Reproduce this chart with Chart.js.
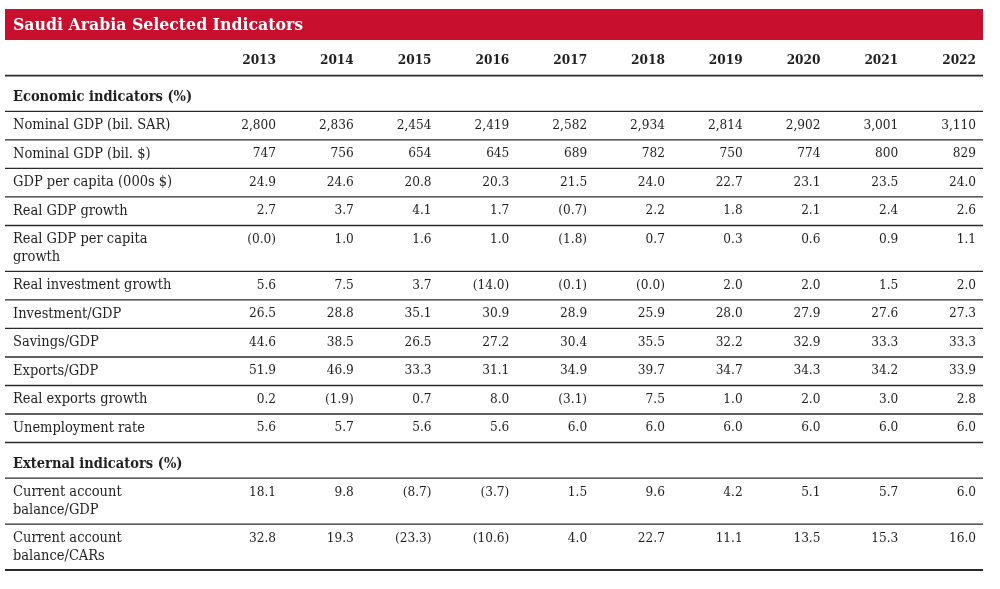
<!DOCTYPE html>
<html>
<head>
<meta charset="utf-8">
<script src="https://cdn.jsdelivr.net/npm/chart.js@4/dist/chart.umd.min.js"></script>
<style>
  html, body { margin: 0; padding: 0; background: #ffffff; }
  #wrap { width: 1000px; height: 589px; position: relative; }
</style>
</head>
<body>
<div id="wrap"><canvas id="c"></canvas></div>
<script>
// ---------- DATA ----------
const title = 'Saudi Arabia Selected Indicators';
const years = ['2013', '2014', '2015', '2016', '2017', '2018', '2019', '2020', '2021', '2022'];

const sectionEconomic = 'Economic indicators (%)';
const sectionExternal = 'External indicators (%)';

const nominalGdpSar      = [2800, 2836, 2454, 2419, 2582, 2934, 2814, 2902, 3001, 3110];
const nominalGdpUsd      = [747, 756, 654, 645, 689, 782, 750, 774, 800, 829];
const gdpPerCapita       = [24.9, 24.6, 20.8, 20.3, 21.5, 24.0, 22.7, 23.1, 23.5, 24.0];
const realGdpGrowth      = [2.7, 3.7, 4.1, 1.7, -0.7, 2.2, 1.8, 2.1, 2.4, 2.6];
const realGdpPcGrowth    = [-0.0, 1.0, 1.6, 1.0, -1.8, 0.7, 0.3, 0.6, 0.9, 1.1];
const realInvGrowth      = [5.6, 7.5, 3.7, -14.0, -0.1, -0.0, 2.0, 2.0, 1.5, 2.0];
const investmentGdp      = [26.5, 28.8, 35.1, 30.9, 28.9, 25.9, 28.0, 27.9, 27.6, 27.3];
const savingsGdp         = [44.6, 38.5, 26.5, 27.2, 30.4, 35.5, 32.2, 32.9, 33.3, 33.3];
const exportsGdp         = [51.9, 46.9, 33.3, 31.1, 34.9, 39.7, 34.7, 34.3, 34.2, 33.9];
const realExportsGrowth  = [0.2, -1.9, 0.7, 8.0, -3.1, 7.5, 1.0, 2.0, 3.0, 2.8];
const unemploymentRate   = [5.6, 5.7, 5.6, 5.6, 6.0, 6.0, 6.0, 6.0, 6.0, 6.0];
const caBalanceGdp       = [18.1, 9.8, -8.7, -3.7, 1.5, 9.6, 4.2, 5.1, 5.7, 6.0];
const caBalanceCars      = [32.8, 19.3, -23.3, -10.6, 4.0, 22.7, 11.1, 13.5, 15.3, 16.0];

// table structure (label lines, values, decimals)
const rows = [
  { section: sectionEconomic },
  { label: ['Nominal GDP (bil. SAR)'], values: nominalGdpSar, dec: 0 },
  { label: ['Nominal GDP (bil. $)'], values: nominalGdpUsd, dec: 0 },
  { label: ['GDP per capita (000s $)'], values: gdpPerCapita, dec: 1 },
  { label: ['Real GDP growth'], values: realGdpGrowth, dec: 1 },
  { label: ['Real GDP per capita', 'growth'], values: realGdpPcGrowth, dec: 1 },
  { label: ['Real investment growth'], values: realInvGrowth, dec: 1 },
  { label: ['Investment/GDP'], values: investmentGdp, dec: 1 },
  { label: ['Savings/GDP'], values: savingsGdp, dec: 1 },
  { label: ['Exports/GDP'], values: exportsGdp, dec: 1 },
  { label: ['Real exports growth'], values: realExportsGrowth, dec: 1 },
  { label: ['Unemployment rate'], values: unemploymentRate, dec: 1 },
  { section: sectionExternal },
  { label: ['Current account', 'balance/GDP'], values: caBalanceGdp, dec: 1 },
  { label: ['Current account', 'balance/CARs'], values: caBalanceCars, dec: 1 }
];

// ---------- LAYOUT ----------
const SPAN_SECTION = 1.25, SPAN_SINGLE = 1, SPAN_DOUBLE = 1.61;
const TEXT_OFFSET = 0.49;      // first text line, in row units below row top
const SECTION_OFFSET = 0.76;

function fmt(v, dec) {
  const neg = v < 0 || Object.is(v, -0);
  const s = Math.abs(v).toLocaleString('en-US', { minimumFractionDigits: dec, maximumFractionDigits: dec });
  return neg ? '(' + s + ')' : s;
}

let cursor = 0;
const rowTops = [];
rows.forEach(r => {
  rowTops.push(cursor);
  if (r.section) cursor += SPAN_SECTION;
  else cursor += (r.label.length > 1 ? SPAN_DOUBLE : SPAN_SINGLE);
});
const totalSpan = cursor;

const datasets = rows.map((r, ri) => {
  if (r.section) return { label: r.section, data: [], section: true, rowIndex: ri };
  return {
    label: r.label.join(' '),
    rowIndex: ri,
    data: r.values.map((v, i) => ({ x: i, y: rowTops[ri] + TEXT_OFFSET })),
    texts: r.values.map(v => fmt(v, r.dec)),
    pointRadius: 0,
    pointHoverRadius: 0,
    showLine: false
  };
});

const FAMILY = "'DejaVu Serif Condensed', 'DejaVu Serif', serif";
const FONT_LABEL = "14.5px " + FAMILY;
const FONT_NUM = "13.5px " + FAMILY;
const FONT_YEAR = "bold 13.5px " + FAMILY;
const FONT_SECTION = "bold 14.5px " + FAMILY;
const FONT_TITLE = "bold 17.5px " + FAMILY;
const TEXT_COLOR = '#1f1f1f';
const LINE_COLOR = '#2a2a2a';
const BANNER_COLOR = '#c8102e';

const tablePlugin = {
  id: 'tablePlugin',
  beforeDraw(chart) {
    const ctx = chart.ctx;
    const xs = chart.scales.x, ys = chart.scales.y;
    const area = chart.chartArea;
    ctx.save();
    ctx.fillStyle = '#ffffff';
    ctx.fillRect(0, 0, chart.width, chart.height);
    // banner
    ctx.fillStyle = BANNER_COLOR;
    ctx.fillRect(area.left, 9, area.right - area.left, 31);
    ctx.fillStyle = '#ffffff';
    ctx.font = FONT_TITLE;
    ctx.textAlign = 'left';
    ctx.textBaseline = 'middle';
    ctx.fillText(title, area.left + 8, 25);
    // year header
    ctx.fillStyle = TEXT_COLOR;
    ctx.font = FONT_YEAR;
    ctx.textAlign = 'right';
    years.forEach((y, i) => {
      ctx.fillText(y, xs.getPixelForValue(i), ys.getPixelForValue(0) - 15);
    });
    // rules
    const bounds = rowTops.concat([totalSpan]);
    bounds.forEach((b, k) => {
      const py = ys.getPixelForValue(b);
      const thick = (k === 0 || k === bounds.length - 1);
      ctx.strokeStyle = LINE_COLOR;
      ctx.lineWidth = thick ? 1.8 : 1.4;
      ctx.beginPath();
      ctx.moveTo(area.left, py);
      ctx.lineTo(area.right, py);
      ctx.stroke();
    });
    ctx.restore();
  },
  afterDatasetsDraw(chart) {
    const ctx = chart.ctx;
    const ys = chart.scales.y;
    const area = chart.chartArea;
    ctx.save();
    ctx.fillStyle = TEXT_COLOR;
    ctx.textBaseline = 'middle';
    chart.data.datasets.forEach((ds, di) => {
      const r = rows[ds.rowIndex];
      const top = rowTops[ds.rowIndex];
      if (ds.section) {
        ctx.font = FONT_SECTION;
        ctx.textAlign = 'left';
        ctx.fillText(ds.label, area.left + 8, ys.getPixelForValue(top + SECTION_OFFSET));
        return;
      }
      ctx.font = FONT_LABEL;
      ctx.textAlign = 'left';
      const y0 = ys.getPixelForValue(top + TEXT_OFFSET);
      r.label.forEach((line, li) => {
        ctx.fillText(line, area.left + 8, y0 + li * 18);
      });
      ctx.font = FONT_NUM;
      ctx.textAlign = 'right';
      const meta = chart.getDatasetMeta(di);
      meta.data.forEach((el, i) => {
        ctx.fillText(ds.texts[i], el.x, el.y);
      });
    });
    ctx.restore();
  }
};

new Chart(document.getElementById('c'), {
  type: 'scatter',
  data: { datasets },
  options: {
    responsive: true,
    maintainAspectRatio: false,
    animation: false,
    events: [],
    layout: { padding: { left: 5, right: 17, top: 75.7, bottom: 19 } },
    plugins: { legend: { display: false }, tooltip: { enabled: false }, title: { display: false } },
    scales: {
      x: { type: 'linear', display: false, min: -3.484, max: 9.09 },
      y: { type: 'linear', display: false, reverse: true, min: 0, max: totalSpan }
    }
  },
  plugins: [tablePlugin]
});
</script>
</body>
</html>
